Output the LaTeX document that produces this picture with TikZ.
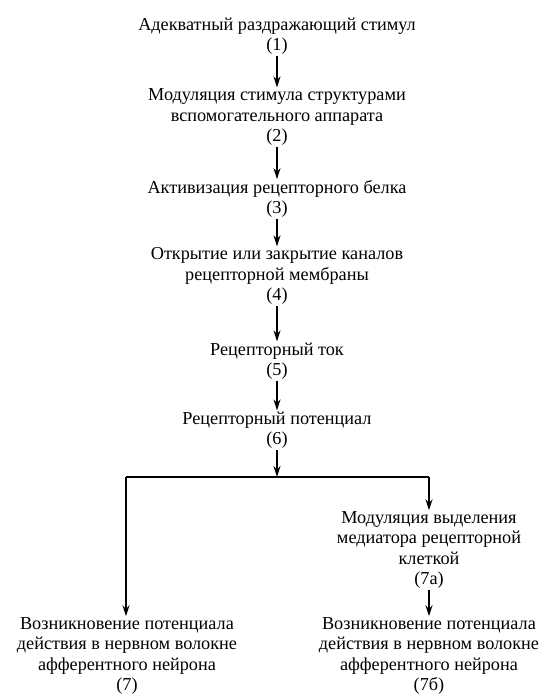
\documentclass[tikz,border=0pt]{standalone}
\usepackage{fontspec}
\setmainfont{Liberation Serif}
\usetikzlibrary{arrows.meta}
\begin{document}
\begin{tikzpicture}[x=1bp,y=-1bp,
  box/.style={align=center, inner sep=1pt, font=\fontsize{18.3}{20.5}\selectfont},
  arr/.style={-{Stealth[length=11bp,width=7bp]}, line width=1.4bp},
  ln/.style={line width=1.4bp}]
\useasboundingbox (0,0) rectangle (549,696);
\node[box] (n1) at (277,36) {Адекватный раздражающий стимул\\(1)};
\node[box] (n2) at (277,117) {Модуляция стимула структурами\\вспомогательного аппарата\\(2)};
\node[box] (n3) at (277,199) {Активизация рецепторного белка\\(3)};
\node[box] (n4) at (277,276) {Открытие или закрытие каналов\\рецепторной мембраны\\(4)};
\node[box] (n5) at (277,361) {Рецепторный ток\\(5)};
\node[box] (n6) at (277,430) {Рецепторный потенциал\\(6)};
\node[box] (n7a) at (429,550) {Модуляция выделения\\медиатора рецепторной\\клеткой\\(7а)};
\node[box] (n7) at (127,656) {Возникновение потенциала\\действия в нервном волокне\\афферентного нейрона\\(7)};
\node[box] (n7b) at (429,656) {Возникновение потенциала\\действия в нервном волокне\\афферентного нейрона\\(7б)};
\coordinate (j) at (277,477);
\coordinate (jl) at (126,477);
\coordinate (jr) at (429,477);
\draw[arr] (n1.south) -- (n2.north);
\draw[arr] (n2.south) -- (n3.north);
\draw[arr] (n3.south) -- (n4.north);
\draw[arr] (n4.south) -- (n5.north);
\draw[arr] (n5.south) -- (n6.north);
\draw[arr] (n6.south) -- (j);
\draw[ln] (jl) -- (jr);
\draw[arr] (jl) -- (jl |- n7.north);
\draw[arr] (jr) -- (n7a.north);
\draw[arr] (n7a.south) -- (n7b.north);
\end{tikzpicture}
\end{document}
